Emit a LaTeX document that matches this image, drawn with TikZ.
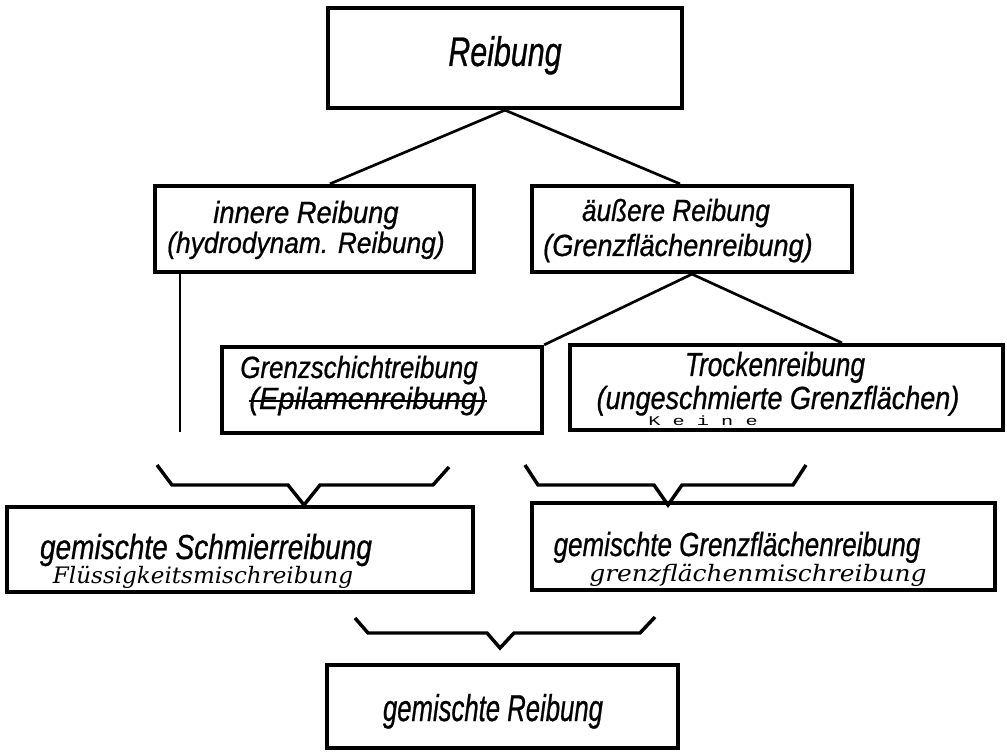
\documentclass[tikz,border=0pt]{standalone}
\usepackage{fontspec}
\setmainfont{Liberation Sans}
\newfontfamily\heavyfont[FakeBold=0.8]{Liberation Sans}
\newfontfamily\handfont{DejaVu Serif}
\newfontfamily\typefont{Liberation Mono}
\usepackage{graphicx}
\newcommand\lab[3]{\resizebox{#1}{\height}{\fontsize{#2}{#2}\selectfont #3}}
\begin{document}
\begin{tikzpicture}[x=0.75pt,y=-0.75pt,
  box/.style={draw, line width=3.2pt, inner sep=0pt},
  conn/.style={line width=2pt},
  brace/.style={line width=2.6pt, line join=miter},
  strike/.style={line width=1.2pt},
  lbl/.style={anchor=base, inner sep=0pt, font=\heavyfont\itshape},
  hand/.style={anchor=base, inner sep=0pt, font=\handfont\itshape},
  type/.style={anchor=base, inner sep=0pt, font=\typefont}]
\useasboundingbox[fill=white] (0,0) rectangle (1007,752);

% boxes
\node[box, minimum width={354*0.75pt}, minimum height={100*0.75pt}] (reib) at (505,58) {};
\node[box, minimum width={319*0.75pt}, minimum height={86*0.75pt}] (inn) at (314.5,229) {};
\node[box, minimum width={320*0.75pt}, minimum height={86*0.75pt}] (aus) at (692,229) {};
\node[box, minimum width={320*0.75pt}, minimum height={86*0.75pt}] (grenz) at (382,390) {};
\node[box, minimum width={433*0.75pt}, minimum height={85*0.75pt}] (trock) at (786.5,387.5) {};
\node[box, minimum width={466*0.75pt}, minimum height={85*0.75pt}] (gsr) at (240,549.5) {};
\node[box, minimum width={463*0.75pt}, minimum height={87*0.75pt}] (ggr) at (763.5,546.5) {};
\node[box, minimum width={351*0.75pt}, minimum height={83*0.75pt}] (gr) at (502.5,706.5) {};

% texts
\node[lbl] (tReib) at (505,66) {\lab{85pt}{31pt}{Reibung}};
\node[lbl] (tInn1) at (306,223) {\lab{139pt}{23pt}{innere Reibung}};
\node[lbl] (tInn2) at (306,253) {\lab{208pt}{22pt}{(hydrodynam. Reibung)}};
\node[lbl] (tAus1) at (676,221) {\lab{141pt}{23pt}{äußere Reibung}};
\node[lbl] (tAus2) at (678,256) {\lab{202pt}{23pt}{(Grenzflächenreibung)}};
\node[lbl] (tGr1) at (359,378) {\lab{178pt}{23pt}{Grenzschichtreibung}};
\node[lbl] (tGr2) at (368,409) {\lab{178pt}{23pt}{(Epilamenreibung)}};
\node[lbl] (tTr1) at (775,376) {\lab{135pt}{25pt}{Trockenreibung}};
\node[lbl] (tTr2) at (778,409) {\lab{272pt}{24pt}{(ungeschmierte Grenzflächen)}};
\node[type] (tKeine) at (703,426) {\lab{82pt}{10pt}{K e i n e}};
\node[lbl] (tGs) at (206,559) {\lab{249pt}{26pt}{gemischte Schmierreibung}};
\node[hand] (hGs) at (203,583) {\lab{225pt}{17pt}{Flüssigkeitsmischreibung}};
\node[lbl] (tGg) at (737,556) {\lab{275pt}{25pt}{gemischte Grenzflächenreibung}};
\node[hand] (hGg) at (758,581) {\lab{253pt}{17pt}{grenzflächenmischreibung}};
\node[lbl] (tG) at (493,721) {\lab{165pt}{28pt}{gemischte Reibung}};

% strike-through
\draw[strike] (tGr2.west) -- (tGr2.east);

% connectors
\coordinate (innEnd) at (180,432);
\draw[conn] (reib.south) -- ([xshift=11.6pt]inn.north);
\draw[conn] (reib.south) -- ([xshift=-9pt]aus.north);
\draw[conn] (inn.south -| innEnd) -- (innEnd);
\draw[conn] (aus.south) -- (grenz.north east);
\draw[conn] (aus.south) -- ([xshift=41.6pt]trock.north);

% brackets
\draw[brace] (157,465) -- (172,485) -- (288,485) -- (304,505) -- (320,485) -- (433,485) -- (449,467);
\draw[brace] (525,465) -- (538,485) -- (654,485) -- (668,505) -- (682,485) -- (793,485) -- (806,465);
\draw[brace] (355,618) -- (368,633) -- (487,633) -- (500,648) -- (514,633) -- (640,633) -- (655,617);
\end{tikzpicture}
\end{document}
